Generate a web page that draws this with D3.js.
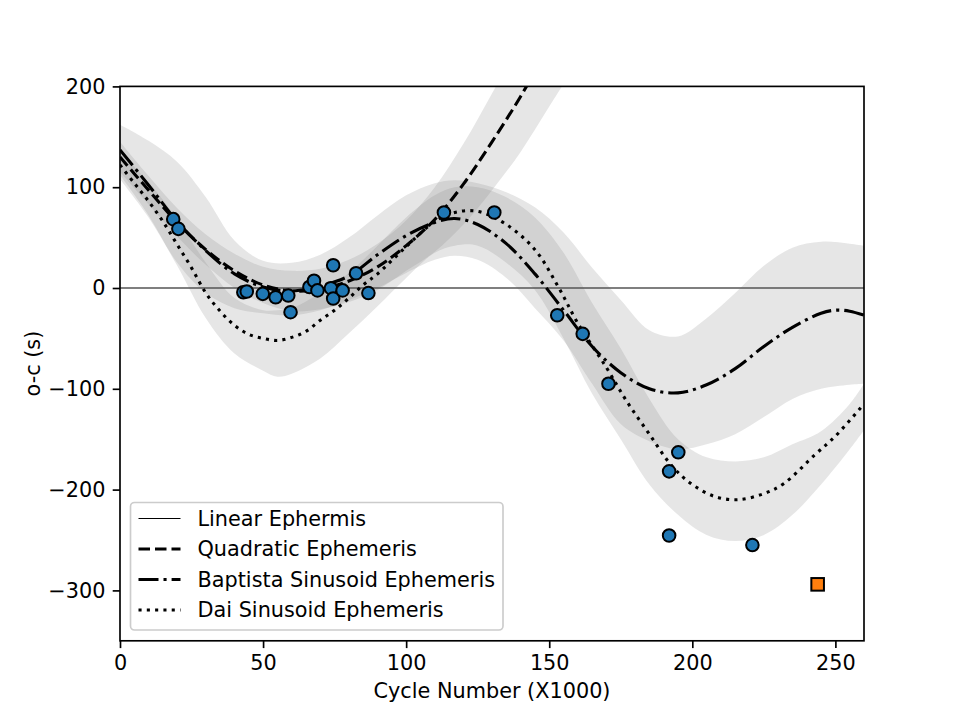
<!DOCTYPE html>
<html>
<head>
<meta charset="utf-8">
<script src="https://cdn.jsdelivr.net/npm/d3@7"></script>
<style>
body { margin: 0; background: #fff; }
text { font-family: "DejaVu Sans", sans-serif; fill: #000; }
</style>
</head>
<body>
<div id="chart"></div>
<script>
// observed minima (cycle in thousands, o-c in seconds)
var obsCycle = [18.6, 20.4, 43.1, 44.3, 49.9, 54.4, 58.8, 59.6, 66.2, 67.8, 69.0, 73.7, 74.5, 74.5, 77.8, 82.5, 86.8,
                113.2, 130.8, 152.8, 161.7, 170.7, 195.1, 191.9, 191.9, 221.0];
var obsOC    = [68.3, 58.7, -4.2, -3.5, -5.8, -9.2, -7.5, -24, 1, 7.2, -2.4, -0.2, 22.6, -10.4, -2.4, 14.6, -5,
                74.9, 74.9, -27, -45.5, -95, -163, -181.9, -245.5, -255];
var newCycle = [243.8];
var newOC    = [-294];

// model curves
var linX = [0, 260];
var linY = [0, 0];

var quadX  = [0, 10, 20, 30, 40, 50, 60, 70, 80, 90, 100, 110, 120, 130, 140, 150, 160];
var quadY  = [130, 97, 65, 38, 17, 3, -3, -1, 7, 21, 42, 68, 103, 145, 190, 240, 290];
var quadLo = [115, 83, 51, 23, 0, -15, -23, -21, -14, -2, 17, 36, 63, 97, 135, 180, 225];
var quadHi = [145, 111, 79, 53, 34, 21, 17, 19, 28, 44, 67, 100, 143, 193, 245, 300, 355];

var baptX = [0, 10, 20, 30, 40, 50, 60, 70, 80, 90, 100, 110, 117, 125, 135, 145, 155, 165, 175, 185, 195, 205, 215, 225, 235, 245, 250, 255, 260];
var baptY = [137, 102, 66, 37, 14, 1, -3, 2, 12, 33, 52, 65, 69, 63, 44, 14, -22, -58, -84, -100, -104, -96, -80, -58, -39, -25, -22, -23, -27];
var baptBandX = [0, 10, 20, 30, 40, 50, 60, 70, 80, 90, 100, 110, 117, 125, 135, 145, 155, 165, 175, 185, 195, 205, 215, 225, 235, 245, 255, 260];
var baptHi = [162, 146, 125, 90, 47, 27, 25, 33, 50, 72, 92, 104, 107, 104, 95, 80, 55, 20, -12, -42, -48, -30, -5, 22, 40, 46, 44, 42];
var baptLo = [112, 72, 25, -5, -20, -25, -27, -22, -12, 0, 15, 28, 32, 28, 10, -20, -52, -95, -135, -152, -160, -155, -145, -128, -110, -100, -96, -95];

var daiX = [0, 5, 10, 15, 20, 25, 30, 35, 40, 45, 50, 55, 60, 65, 70, 75, 80, 85, 90, 100, 110, 117, 125, 135, 145, 153, 160, 170, 177, 185, 193, 200, 208, 216, 225, 232, 243, 250, 260];
var daiY = [122, 104, 86, 66, 43, 20, -5, -23, -37, -46, -50, -52, -49, -43, -32, -22, -10, 3, 14, 41, 66, 75, 76, 63, 38, 2, -35, -79, -112, -145, -177, -195, -207, -210, -204, -194, -165, -147, -115];
var daiBandX = [0, 10, 20, 30, 40, 50, 55, 60, 70, 80, 90, 100, 110, 117, 125, 135, 145, 155, 165, 175, 185, 195, 205, 215, 225, 235, 245, 255, 260];
var daiHi = [135, 105, 68, 25, -10, -22, -22, -20, -5, 15, 42, 70, 92, 100, 100, 90, 70, 35, -15, -60, -110, -150, -168, -172, -168, -155, -142, -115, -95];
var daiLo = [108, 70, 22, -30, -65, -82, -88, -85, -70, -45, -18, 10, 35, 42, 42, 25, -2, -50, -105, -150, -195, -225, -245, -251, -245, -225, -195, -160, -141];

var xTicks = [0, 50, 100, 150, 200, 250];
var yTicks = [-300, -200, -100, 0, 100, 200];
var legendLabels = ["Linear Ephermis", "Quadratic Ephemeris", "Baptista Sinusoid Ephemeris", "Dai Sinusoid Ephemeris"];

var width = 960, height = 720;
var mLeft = 120, mRight = 864, mTop = 86.4, mBottom = 640.8;
var fs = 20.8;

var svg = d3.select("#chart").append("svg")
    .attr("width", width)
    .attr("height", height);

var x = d3.scaleLinear().domain([0, 260]).range([mLeft, mRight]);
var y = d3.scaleLinear().domain([-350, 200]).range([mBottom, mTop]);

svg.append("clipPath").attr("id", "plotclip")
  .append("rect")
    .attr("x", mLeft).attr("y", mTop)
    .attr("width", mRight - mLeft).attr("height", mBottom - mTop);

var plot = svg.append("g").attr("clip-path", "url(#plotclip)");

function zip(xs, a, b) {
  return xs.map(function(v, i) { return {x: v, lo: a[i], hi: b[i]}; });
}
function pts(xs, ys) {
  return xs.map(function(v, i) { return {x: v, y: ys[i]}; });
}

var area = d3.area()
    .x(function(d) { return x(d.x); })
    .y0(function(d) { return y(d.lo); })
    .y1(function(d) { return y(d.hi); })
    .curve(d3.curveCatmullRom);

var line = d3.line()
    .x(function(d) { return x(d.x); })
    .y(function(d) { return y(d.y); })
    .curve(d3.curveCatmullRom);

// uncertainty bands
[zip(quadX, quadLo, quadHi), zip(baptBandX, baptLo, baptHi), zip(daiBandX, daiLo, daiHi)].forEach(function(b) {
  plot.append("path")
      .attr("d", area(b))
      .attr("fill", "#808080")
      .attr("fill-opacity", 0.2);
});

var lw = 3.1;
var styles = [
  {dash: null, w: 1.4, color: "#555"},
  {dash: "11.5,5", w: lw, color: "#000"},
  {dash: "20,5,3.1,5", w: lw, color: "#000"},
  {dash: "3.1,5.2", w: lw, color: "#000"}
];
var series = [pts(linX, linY), pts(quadX, quadY), pts(baptX, baptY), pts(daiX, daiY)];

series.forEach(function(s, i) {
  plot.append("path")
      .attr("d", line(s))
      .attr("fill", "none")
      .attr("stroke", styles[i].color)
      .attr("stroke-width", styles[i].w)
      .attr("stroke-dasharray", styles[i].dash);
});

// observed points
plot.selectAll(".obs")
    .data(obsCycle.map(function(c, i) { return {x: c, y: obsOC[i]}; }))
  .enter().append("circle")
    .attr("class", "obs")
    .attr("cx", function(d) { return x(d.x); })
    .attr("cy", function(d) { return y(d.y); })
    .attr("r", 6.3)
    .attr("fill", "#1f77b4")
    .attr("stroke", "#000")
    .attr("stroke-width", 2);

plot.selectAll(".newpt")
    .data(newCycle.map(function(c, i) { return {x: c, y: newOC[i]}; }))
  .enter().append("rect")
    .attr("class", "newpt")
    .attr("x", function(d) { return x(d.x) - 6.3; })
    .attr("y", function(d) { return y(d.y) - 6.3; })
    .attr("width", 12.6).attr("height", 12.6)
    .attr("fill", "#ff7f0e")
    .attr("stroke", "#000")
    .attr("stroke-width", 2);

// axes
var xAxis = svg.append("g")
    .attr("transform", "translate(0," + mBottom + ")")
    .call(d3.axisBottom(x).tickValues(xTicks).tickSize(7.3).tickPadding(7.3));
var yAxis = svg.append("g")
    .attr("transform", "translate(" + mLeft + ",0)")
    .call(d3.axisLeft(y).tickValues(yTicks).tickSize(7.3).tickPadding(7.3));

[xAxis, yAxis].forEach(function(a) {
  a.select(".domain").remove();
  a.selectAll("line").attr("stroke", "#000").attr("stroke-width", 1.67);
  a.selectAll("text").attr("font-size", fs).attr("font-family", "DejaVu Sans").attr("fill", "#000");
});

svg.append("rect")
    .attr("x", mLeft).attr("y", mTop)
    .attr("width", mRight - mLeft).attr("height", mBottom - mTop)
    .attr("fill", "none")
    .attr("stroke", "#000")
    .attr("stroke-width", 1.67);

svg.append("text")
    .attr("x", (mLeft + mRight) / 2)
    .attr("y", 698)
    .attr("text-anchor", "middle")
    .attr("font-size", fs)
    .text("Cycle Number (X1000)");

svg.append("text")
    .attr("transform", "translate(40," + ((mTop + mBottom) / 2) + ") rotate(-90)")
    .attr("text-anchor", "middle")
    .attr("font-size", fs)
    .text("o-c (s)");

// legend
var legend = svg.append("g");
legend.append("rect")
    .attr("x", 130.5).attr("y", 502.5)
    .attr("width", 372.5).attr("height", 127.5)
    .attr("rx", 4).attr("ry", 4)
    .attr("fill", "#fff").attr("fill-opacity", 0.8)
    .attr("stroke", "#ccc").attr("stroke-width", 1.67);

var rowY = [518.5, 549, 579.5, 610];
legendLabels.forEach(function(lab, i) {
  legend.append("line")
      .attr("x1", 138.5).attr("x2", 180.5)
      .attr("y1", rowY[i]).attr("y2", rowY[i])
      .attr("stroke", i === 0 ? "#000" : styles[i].color)
      .attr("stroke-width", i === 0 ? 1 : styles[i].w)
      .attr("stroke-dasharray", styles[i].dash);
  legend.append("text")
      .attr("x", 197.5)
      .attr("y", rowY[i])
      .attr("dy", "0.35em")
      .attr("font-size", fs)
      .text(lab);
});
</script>
</body>
</html>
